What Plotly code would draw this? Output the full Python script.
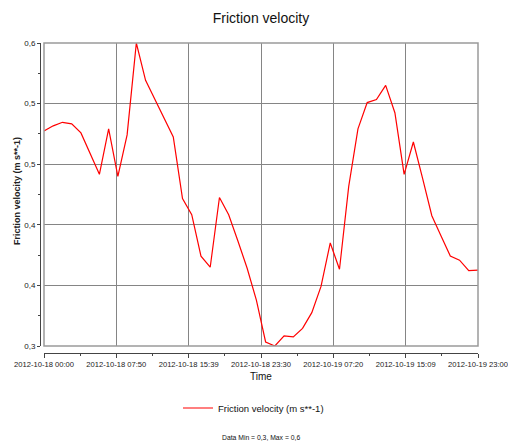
import pandas as pd
import plotly.graph_objects as go

start = "2012-10-18 00:00"
times = pd.date_range(start, periods=48, freq="h")
friction_velocity = [
    0.513, 0.518, 0.5215, 0.520, 0.511, 0.491, 0.470, 0.515, 0.468, 0.509,
    0.600, 0.563, 0.544, 0.525, 0.507, 0.446, 0.430, 0.389, 0.378, 0.447,
    0.430, 0.404, 0.377, 0.3455, 0.304, 0.300, 0.310, 0.309, 0.3175, 0.333,
    0.359, 0.402, 0.376, 0.458, 0.515, 0.541, 0.544, 0.558, 0.531, 0.470,
    0.502, 0.466, 0.429, 0.409, 0.389, 0.385, 0.3746, 0.3752,
]
x_tick_labels = [
    "2012-10-18 00:00", "2012-10-18 07:50", "2012-10-18 15:39", "2012-10-18 23:30",
    "2012-10-19 07:20", "2012-10-19 15:09", "2012-10-19 23:00",
]
y_tick_values = [0.3, 0.36, 0.42, 0.48, 0.54, 0.6]
y_tick_labels = ["0,3", "0,4", "0,4", "0,5", "0,5", "0,6"]

t0 = pd.Timestamp(start)
step = (times[-1] - t0) / 6
x_tick_values = [t0 + k * step for k in range(7)]

FONT = "Liberation Sans, Arial, sans-serif"
W, H = 508, 444
def px(x):
    return x / W
def py(y):
    return (H - y) / H

fig = go.Figure()
fig.add_trace(go.Scatter(
    x=times, y=friction_velocity, mode="lines",
    line=dict(color="#ff0000", width=1.2),
    name="Friction velocity (m s**-1)",
))

fig.update_layout(
    width=W, height=H,
    margin=dict(l=0, r=0, t=0, b=0),
    paper_bgcolor="white", plot_bgcolor="white",
    font=dict(family=FONT, color="#222222"),
    title=dict(text="Friction velocity", x=px(261), xanchor="center",
               y=py(18), yanchor="middle", font=dict(size=14, color="#111111")),
    showlegend=True,
    legend=dict(orientation="h", x=px(178), xanchor="left", y=py(408), yanchor="middle",
                font=dict(size=9.5, color="#111111"), itemwidth=30),
    xaxis=dict(
        domain=[px(44), px(478)],
        range=[times[0], times[-1]],
        anchor="free", position=py(352.5),
        tickmode="array", tickvals=x_tick_values, ticktext=x_tick_labels,
        tickfont=dict(size=7.6, color="#1a1a1a"), tickangle=0,
        ticks="outside", ticklen=4, tickcolor="#444444",
        showline=True, linecolor="#444444", linewidth=1,
        showgrid=True, gridcolor="#858585", gridwidth=1,
        minor=dict(tickmode="array",
                   tickvals=[t0 + (k + 0.5) * step for k in range(6)],
                   ticks="outside", ticklen=2, tickcolor="#444444", showgrid=False),
        zeroline=False, automargin=False,
    ),
    yaxis=dict(
        domain=[py(346), py(43)],
        range=[0.3, 0.6],
        anchor="free", position=px(40),
        tickmode="array", tickvals=y_tick_values, ticktext=y_tick_labels,
        tickfont=dict(size=8, color="#1a1a1a"),
        ticks="outside", ticklen=3, tickcolor="#444444",
        showline=True, linecolor="#444444", linewidth=1,
        showgrid=True, gridcolor="#858585", gridwidth=1,
        minor=dict(tickmode="array",
                   tickvals=[0.33, 0.39, 0.45, 0.51, 0.57],
                   ticks="outside", ticklen=2, tickcolor="#444444", showgrid=False),
        zeroline=False, automargin=False,
    ),
    shapes=[dict(type="rect", xref="x domain", yref="y domain",
                 x0=0, x1=1, y0=0, y1=1, line=dict(color="#9a9a9a", width=1.5),
                 layer="above")],
    annotations=[
        dict(text="Time", x=px(261), y=py(376), xref="paper", yref="paper",
             showarrow=False, font=dict(size=10, color="#111111"),
             xanchor="center", yanchor="middle"),
        dict(text="<b>Friction velocity (m s**-1)</b>", x=px(17), y=py(191),
             xref="paper", yref="paper", textangle=-90, showarrow=False,
             font=dict(size=9, color="#222222"), xanchor="center", yanchor="middle"),
        dict(text="Data Min = 0,3, Max = 0,6", x=px(261), y=py(437),
             xref="paper", yref="paper", showarrow=False,
             font=dict(size=6.8, color="#111111"), xanchor="center", yanchor="middle"),
    ],
)

fig.write_html("out.html", config={"displayModeBar": False},
               post_script="document.body.style.margin='0';document.body.style.overflow='hidden';")
